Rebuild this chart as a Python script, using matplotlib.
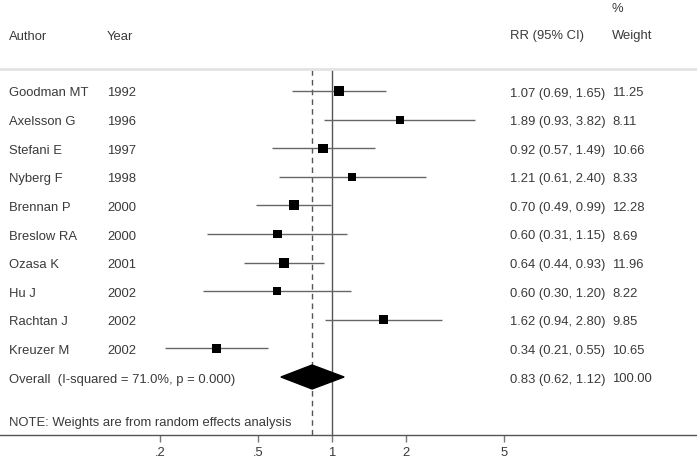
import numpy as np
import matplotlib
matplotlib.use("Agg")
import matplotlib.pyplot as plt
from matplotlib.patches import Polygon

plt.rcParams["font.family"] = ["Liberation Sans", "DejaVu Sans"]

authors = ["Goodman MT", "Axelsson G", "Stefani E", "Nyberg F", "Brennan P",
           "Breslow RA", "Ozasa K", "Hu J", "Rachtan J", "Kreuzer M"]
years = ["1992", "1996", "1997", "1998", "2000", "2000", "2001", "2002", "2002", "2002"]
rr = [1.07, 1.89, 0.92, 1.21, 0.70, 0.60, 0.64, 0.60, 1.62, 0.34]
lo = [0.69, 0.93, 0.57, 0.61, 0.49, 0.31, 0.44, 0.30, 0.94, 0.21]
hi = [1.65, 3.82, 1.49, 2.40, 0.99, 1.15, 0.93, 1.20, 2.80, 0.55]
weights = [11.25, 8.11, 10.66, 8.33, 12.28, 8.69, 11.96, 8.22, 9.85, 10.65]

overall_label = "Overall  (I-squared = 71.0%, p = 0.000)"
overall_rr, overall_lo, overall_hi, overall_w = 0.83, 0.62, 1.12, 100.00
note = "NOTE: Weights are from random effects analysis"
xticks = [0.2, 0.5, 1, 2, 5]
xticklabels = [".2", ".5", "1", "2", "5"]

W, H = 697, 460
TXT = "#3a3a3a"
FS = 9.4

fig = plt.figure(figsize=(W / 100, H / 100), dpi=100)
# axes from the grey header rule (y=70px) down to the x axis (y=436px)
ax = fig.add_axes([0, (H - 436) / H, 1, (436 - 70) / H])
ax.set_xscale("log")
px_per_dec = (332 - 160) / np.log10(5)
ax.set_xlim(10 ** (-332 / px_per_dec), 10 ** ((W - 332) / px_per_dec))
row_px, row0 = 28.6, 92
ax.set_ylim((436 - row0) / row_px, (70 - row0) / row_px)

for s in ["left", "right"]:
    ax.spines[s].set_visible(False)
ax.spines["top"].set_color("#e3e3e3")
ax.spines["top"].set_linewidth(2)
ax.spines["bottom"].set_color("#555555")
ax.spines["bottom"].set_linewidth(1)
ax.set_yticks([])
ax.set_xticks(xticks)
ax.set_xticklabels(xticklabels)
ax.xaxis.set_minor_locator(plt.NullLocator())
ax.tick_params(axis="x", length=5, width=1, color="#777777", labelsize=FS,
               labelcolor=TXT, pad=3)

# reference lines
ax.axvline(1, color="#555555", lw=1, zorder=1)
ax.axvline(overall_rr, color="#555555", lw=1, ls=(0, (4, 3)), zorder=1)

rows = np.arange(len(authors))
ax.hlines(rows, lo, hi, color="#666666", lw=1, zorder=2)
ax.scatter(rr, rows, marker="s", s=np.array(weights) * 4.2,
           color="black", linewidths=0, zorder=3)

# overall diamond
yo = len(authors)
h = 12 / row_px
ax.add_patch(Polygon([(overall_lo, yo), (overall_rr, yo - h), (overall_hi, yo),
                      (overall_rr, yo + h)], closed=True, color="black", zorder=3))

# text columns
tr = ax.get_yaxis_transform()
col_author, col_year, col_rr, col_w = 9 / W, 107 / W, 510 / W, 612 / W
kw = dict(transform=tr, fontsize=FS, color=TXT, va="center_baseline", clip_on=False)
hdr = (35 - row0) / row_px
ax.text(col_author, hdr, "Author", **kw)
ax.text(col_year, hdr, "Year", **kw)
ax.text(col_rr, hdr, "RR (95% CI)", **kw)
ax.text(col_w, hdr, "Weight", **kw)
ax.text(col_w, (7 - row0) / row_px, "%", **kw)

for i in rows:
    ax.text(col_author, i, authors[i], **kw)
    ax.text(col_year, i, years[i], **kw)
    ax.text(col_rr, i, f"{rr[i]:.2f} ({lo[i]:.2f}, {hi[i]:.2f})", **kw)
    ax.text(col_w, i, f"{weights[i]:.2f}", **kw)

ax.text(col_author, yo, overall_label, **kw)
ax.text(col_rr, yo, f"{overall_rr:.2f} ({overall_lo:.2f}, {overall_hi:.2f})", **kw)
ax.text(col_w, yo, f"{overall_w:.2f}", **kw)
ax.text(col_author, (422 - row0) / row_px, note, **kw)

fig.savefig("out.png", dpi=100)
